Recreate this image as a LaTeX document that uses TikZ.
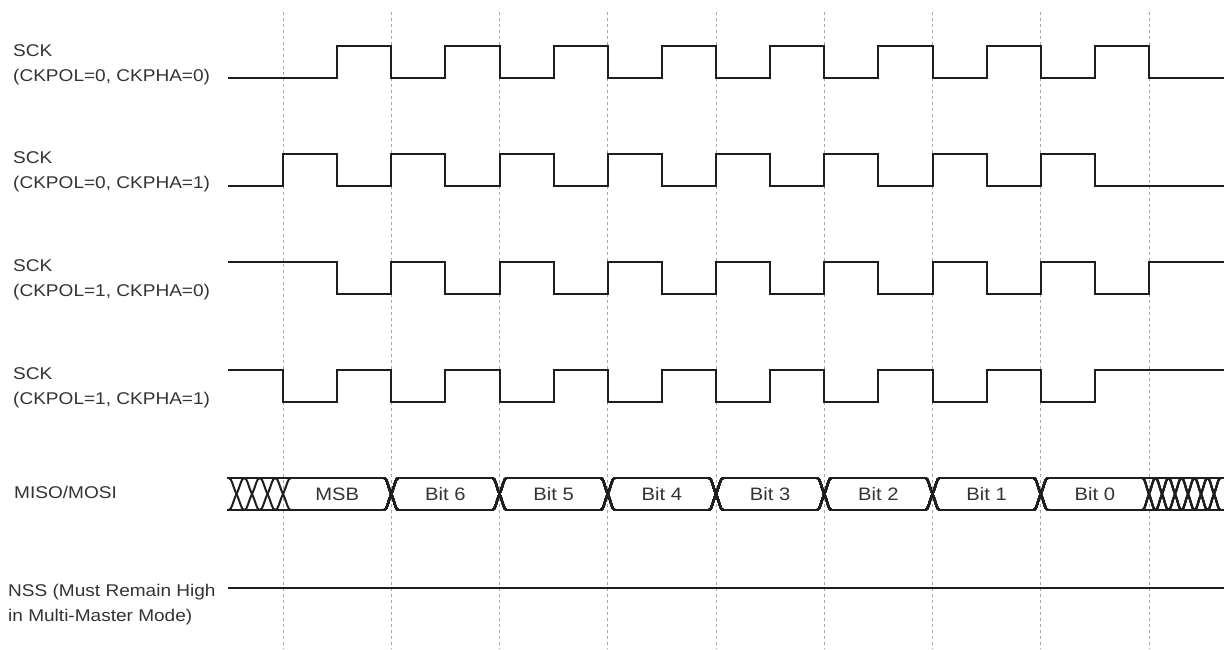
\documentclass[tikz,border=0pt]{standalone}
\usepackage{fontspec}
\setmainfont[FakeStretch=1.12]{Liberation Sans}
\definecolor{ink}{HTML}{1E1E1E}
\definecolor{txt}{HTML}{333333}
\definecolor{gridc}{HTML}{A8A8A8}
\newcommand\busxing[2]{%
  \draw[sig] ({#1-#2},478) .. controls ({#1-0.6*#2},478) and ({#1-0.5*#2},486) .. (#1,494)
     .. controls ({#1+0.5*#2},502) and ({#1+0.6*#2},510) .. ({#1+#2},510);
  \draw[sig] ({#1-#2},510) .. controls ({#1-0.6*#2},510) and ({#1-0.5*#2},502) .. (#1,494)
     .. controls ({#1+0.5*#2},486) and ({#1+0.6*#2},478) .. ({#1+#2},478);}
\begin{document}
\begin{tikzpicture}[x=1pt,y=-1pt,
  sig/.style={draw=ink,line width=2pt,line join=miter},
  gridline/.style={draw=gridc,line width=1pt,dash pattern=on 3pt off 3pt},
  lbl/.style={text=txt,font=\fontsize{17}{25}\selectfont,inner sep=0pt,align=left,anchor=base west},
  bitlbl/.style={text=txt,font=\fontsize{18}{20}\selectfont,inner sep=0pt,anchor=center}]
\useasboundingbox[fill=white] (0,0) rectangle (1225,649);
% grid
\foreach \k in {0,...,8}
  \draw[gridline] ({283+108.25*\k},12) -- ({283+108.25*\k},649);
% labels (base = baseline of last line)
\node[lbl] (l1) at (13,81) {SCK\\(CKPOL=0, CKPHA=0)};
\node[lbl] (l2) at (13,188) {SCK\\(CKPOL=0, CKPHA=1)};
\node[lbl] (l3) at (13,296) {SCK\\(CKPOL=1, CKPHA=0)};
\node[lbl] (l4) at (13,404) {SCK\\(CKPOL=1, CKPHA=1)};
\node[lbl] (l5) at (14,498) {MISO/MOSI};
\node[lbl] (l6) at (8,621) {NSS (Must Remain High\\in Multi-Master Mode)};
% SCK CKPOL=0 CKPHA=0
\draw[sig] (228,78) foreach \k in {0,...,7} {
  -- ({337.125+108.25*\k},78) -- ({337.125+108.25*\k},46)
  -- ({391.25+108.25*\k},46) -- ({391.25+108.25*\k},78)} -- (1224,78);
% SCK CKPOL=0 CKPHA=1
\draw[sig] (228,186) foreach \k in {0,...,7} {
  -- ({283+108.25*\k},186) -- ({283+108.25*\k},154)
  -- ({337.125+108.25*\k},154) -- ({337.125+108.25*\k},186)} -- (1224,186);
% SCK CKPOL=1 CKPHA=0
\draw[sig] (228,262) foreach \k in {0,...,7} {
  -- ({337.125+108.25*\k},262) -- ({337.125+108.25*\k},294)
  -- ({391.25+108.25*\k},294) -- ({391.25+108.25*\k},262)} -- (1224,262);
% SCK CKPOL=1 CKPHA=1
\draw[sig] (228,370) foreach \k in {0,...,7} {
  -- ({283+108.25*\k},370) -- ({283+108.25*\k},402)
  -- ({337.125+108.25*\k},402) -- ({337.125+108.25*\k},370)} -- (1224,370);
% MISO/MOSI bus
\foreach \j in {0,...,3} \busxing{283-15.5*\j}{7.75}
\foreach \j in {0,...,5} \busxing{1149+13*\j}{6.5}
\foreach \k in {1,...,7} \busxing{283+108.25*\k}{7}
\draw[sig] (227,478) -- (384.25,478) (227,510) -- (384.25,510);
\foreach \k in {1,...,6} {
  \draw[sig] ({290+108.25*\k},478) -- ({276+108.25*(\k+1)},478)
             ({290+108.25*\k},510) -- ({276+108.25*(\k+1)},510);}
\draw[sig] (1047.75,478) -- (1224,478) (1047.75,510) -- (1224,510);
\foreach \t [count=\i from 0] in {MSB,Bit 6,Bit 5,Bit 4,Bit 3,Bit 2,Bit 1,Bit 0}
  \node[bitlbl] (b\i) at ({337.125+108.25*\i},494) {\t};
% NSS
\draw[sig] (228,588) -- (1224,588);
\end{tikzpicture}
\end{document}
